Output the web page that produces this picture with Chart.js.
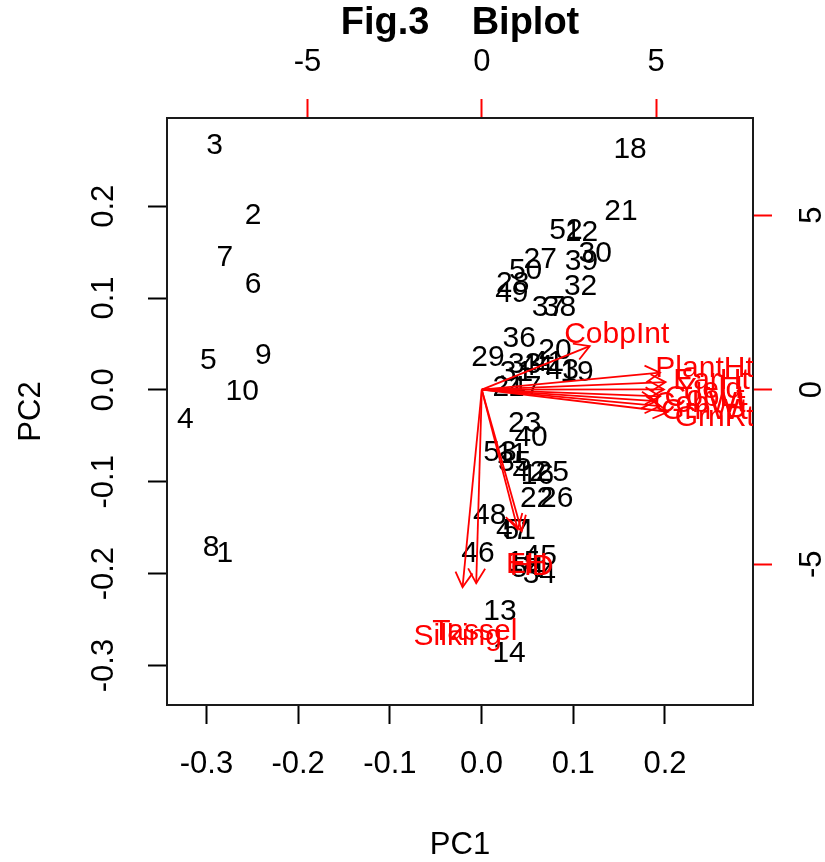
<!DOCTYPE html>
<html>
<head>
<meta charset="utf-8">
<script src="https://cdn.jsdelivr.net/npm/chart.js@4.4.1/dist/chart.umd.min.js"></script>
<style>
  html, body { margin: 0; padding: 0; background: #fff; }
</style>
</head>
<body>
<canvas id="biplot" width="825" height="862"></canvas>
<script>
// ========== data ==========
// observation scores (PC1 / PC2, bottom + left axes)
const obsLabels = ['1','2','3','4','5','6','7','8','9','10','11','12','13','14','15','16','17','18','19','20',
  '21','22','23','24','25','26','27','28','29','30','31','32','33','34','35','36','37','38','39','40',
  '41','42','43','44','45','46','47','48','49','50','51','52','53','54'];
const pc1Scores = [-0.280,-0.249,-0.291,-0.323,-0.298,-0.249,-0.280,-0.295,-0.238,-0.261,
  0.033,0.109,0.020,0.030,0.046,0.061,0.047,0.162,0.104,0.080,
  0.152,0.060,0.047,0.030,0.077,0.082,0.064,0.034,0.007,0.124,
  0.038,0.108,0.047,0.063,0.036,0.041,0.073,0.085,0.109,0.054,
  0.072,0.052,0.088,0.060,0.064,-0.004,0.034,0.009,0.033,0.048,
  0.041,0.092,0.020,0.050];
const pc2Scores = [-0.178,0.190,0.266,-0.032,0.032,0.115,0.144,-0.172,0.037,-0.002,
  -0.071,0.171,-0.242,-0.287,-0.188,-0.093,0.002,0.261,0.019,0.043,
  0.194,-0.118,-0.037,0.002,-0.090,-0.118,0.142,0.116,0.035,0.148,
  0.019,0.112,0.027,-0.201,-0.079,0.056,0.090,0.090,0.140,-0.052,
  0.030,-0.090,0.021,0.025,-0.182,-0.178,-0.153,-0.137,0.105,0.130,
  -0.153,0.173,-0.068,-0.195];

// variable loadings (top + right axes); arrows end at 0.8 of these, as in biplot()
const varNames = ['CobpInt','PlantHt','EarHt','Yield','CobLt','CobWt','GrnWt','GrnRt','Silking','Tassel','EH','HD'];
const varPC1 = [3.87, 6.39, 6.59, 6.53, 6.39, 6.25, 6.39, 6.68, -0.69, -0.20, 1.29, 1.43];
const varPC2 = [1.56, 0.61, 0.27, 0.01, -0.24, -0.41, -0.59, -0.79, -7.07, -6.93, -5.00, -5.07];

// tick values
const pcTicks = [-0.3, -0.2, -0.1, 0.0, 0.1, 0.2];
const loadTicks = [-5, 0, 5];

const pcRange = [-0.343, 0.296];
const loadRange = [-9.03, 7.78];
const arrowScale = 0.8;

const FONT = '"Liberation Sans", Arial, Helvetica, sans-serif';
const INK = '#000000';
const RED = '#ff0000';

// ========== plugin: text labels, arrow heads, rotated tick labels ==========
const biplotText = {
  id: 'biplotText',
  beforeDatasetsDraw(chart) {
    const { ctx, chartArea: a, scales } = chart;
    ctx.save();
    ctx.beginPath();
    ctx.rect(a.left, a.top, a.right - a.left, a.bottom - a.top);
    ctx.clip();
    ctx.font = '30px ' + FONT;
    ctx.fillStyle = INK;
    ctx.textAlign = 'center';
    ctx.textBaseline = 'middle';
    obsLabels.forEach((lab, i) => {
      ctx.fillText(lab, scales.x.getPixelForValue(pc1Scores[i]), scales.y.getPixelForValue(pc2Scores[i]));
    });
    ctx.restore();
  },
  afterDatasetsDraw(chart) {
    const { ctx, chartArea: a, scales } = chart;
    const x2 = scales.x2, y2 = scales.y2;
    ctx.save();
    ctx.beginPath();
    ctx.rect(a.left, a.top, a.right - a.left, a.bottom - a.top);
    ctx.clip();
    // arrow heads
    ctx.strokeStyle = RED;
    ctx.lineWidth = 1.8;
    const ox = x2.getPixelForValue(0), oy = y2.getPixelForValue(0);
    varNames.forEach((n, i) => {
      const ex = x2.getPixelForValue(varPC1[i] * arrowScale);
      const ey = y2.getPixelForValue(varPC2[i] * arrowScale);
      const ang = Math.atan2(ey - oy, ex - ox);
      const len = 17;
      ctx.beginPath();
      ctx.moveTo(ex - len * Math.cos(ang - Math.PI / 6), ey - len * Math.sin(ang - Math.PI / 6));
      ctx.lineTo(ex, ey);
      ctx.lineTo(ex - len * Math.cos(ang + Math.PI / 6), ey - len * Math.sin(ang + Math.PI / 6));
      ctx.stroke();
    });
    // variable names
    ctx.font = '30px ' + FONT;
    ctx.fillStyle = RED;
    ctx.textAlign = 'center';
    ctx.textBaseline = 'middle';
    varNames.forEach((n, i) => {
      ctx.fillText(n, x2.getPixelForValue(varPC1[i]), y2.getPixelForValue(varPC2[i]));
    });
    ctx.restore();
  },
  afterDraw(chart) {
    const { ctx, chartArea: a, scales } = chart;
    const cx = (a.left + a.right) / 2, cy = (a.top + a.bottom) / 2;
    ctx.save();
    ctx.fillStyle = INK;
    ctx.textAlign = 'center';
    ctx.textBaseline = 'middle';
    // title
    ctx.font = 'bold 38px ' + FONT;
    ctx.fillText('Fig.3    Biplot', cx, 24);
    // axis titles
    ctx.font = '31px ' + FONT;
    ctx.fillText('PC1', cx, 845);
    ctx.save();
    ctx.translate(31, cy);
    ctx.rotate(-Math.PI / 2);
    ctx.fillText('PC2', 0, 0);
    ctx.restore();
    // rotated tick labels on the vertical axes
    pcTicks.forEach(v => {
      ctx.save();
      ctx.translate(104, scales.y.getPixelForValue(v));
      ctx.rotate(-Math.PI / 2);
      ctx.fillText(v.toFixed(1), 0, 0);
      ctx.restore();
    });
    loadTicks.forEach(v => {
      ctx.save();
      ctx.translate(812, scales.y2.getPixelForValue(v));
      ctx.rotate(-Math.PI / 2);
      ctx.fillText(String(v), 0, 0);
      ctx.restore();
    });
    ctx.restore();
  }
};

// ========== chart ==========
const arrowSets = varNames.map((n, i) => ({
  label: n,
  data: [{ x: 0, y: 0 }, { x: varPC1[i] * arrowScale, y: varPC2[i] * arrowScale }],
  xAxisID: 'x2',
  yAxisID: 'y2',
  showLine: true,
  borderColor: RED,
  borderWidth: 1.8,
  pointRadius: 0,
  fill: false
}));

function axis(position, range, ticks, color, size, fmt, showLabels, pad) {
  return {
    type: 'linear',
    position: position,
    min: range[0],
    max: range[1],
    afterBuildTicks: s => { s.ticks = ticks.map(v => ({ value: v })); },
    afterFit: s => {
      if (position === 'left' || position === 'right') s.width = size; else s.height = size;
    },
    border: { display: true, color: '#1a1a1a', width: 2 },
    grid: { display: true, drawOnChartArea: false, drawTicks: true, tickLength: 19, tickColor: color, tickWidth: 2 },
    ticks: {
      display: showLabels,
      color: INK,
      padding: pad,
      font: { family: FONT, size: 31 },
      callback: fmt,
      maxRotation: 0
    }
  };
}

new Chart(document.getElementById('biplot'), {
  type: 'scatter',
  data: {
    datasets: [
      {
        label: 'scores',
        data: obsLabels.map((l, i) => ({ x: pc1Scores[i], y: pc2Scores[i] })),
        xAxisID: 'x',
        yAxisID: 'y',
        pointRadius: 0,
        pointHoverRadius: 0
      }
    ].concat(arrowSets)
  },
  options: {
    responsive: false,
    animation: false,
    devicePixelRatio: 1,
    layout: { padding: 0 },
    plugins: { legend: { display: false }, tooltip: { enabled: false }, title: { display: false } },
    scales: {
      x: axis('bottom', pcRange, pcTicks, INK, 157, v => v.toFixed(1), true, 22),
      y: axis('left', pcRange, pcTicks, INK, 167, v => v.toFixed(1), false, 0),
      x2: axis('top', loadRange, loadTicks, RED, 118, v => String(v), true, 18),
      y2: axis('right', loadRange, loadTicks, RED, 72, v => String(v), false, 0)
    }
  },
  plugins: [biplotText]
});
</script>
</body>
</html>
